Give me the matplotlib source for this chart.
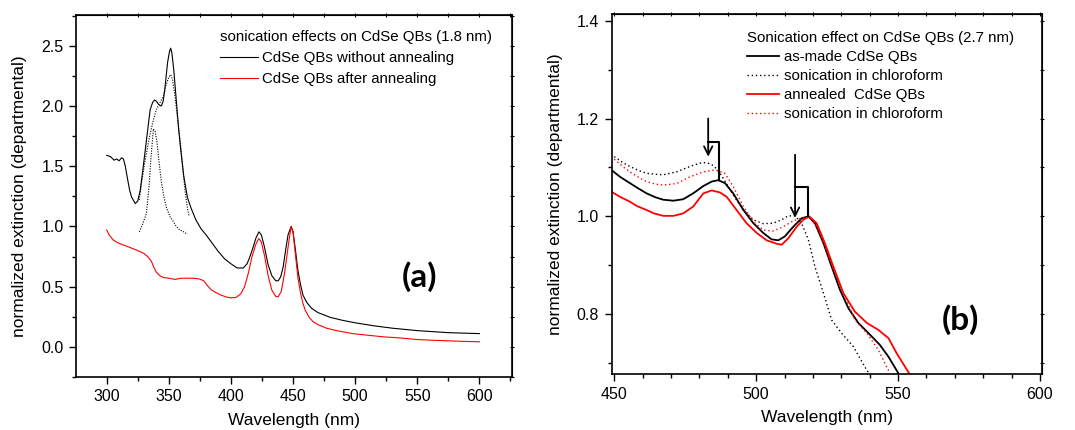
import numpy as np
import matplotlib; matplotlib.use('Agg')
import matplotlib.pyplot as plt
from matplotlib.ticker import MultipleLocator
from matplotlib.lines import Line2D

plt.rcParams['font.family'] = ['Liberation Sans', 'DejaVu Sans']

# ---- (a) 1.8 nm QBs ----
wl_a_raw = [300, 303, 306, 308, 310, 312, 313.5, 315, 316.5, 318.5, 320, 323, 325, 327, 329,
            331, 333, 335, 337, 338.5, 340, 342, 344, 345.5, 347, 349, 350.5, 351.5, 352.5,
            354, 356, 358, 360, 362, 365, 368, 372, 376, 380, 385, 390, 395, 400, 405, 410,
            413, 415, 418, 420, 422.5, 424.5, 427, 430, 433, 436, 438, 440, 442, 444, 446,
            448.5, 450, 452, 454, 456, 458, 461, 465, 470, 480, 490, 500, 515, 530, 550,
            575, 600]
ext_a_raw = [1.59, 1.58, 1.55, 1.56, 1.545, 1.57, 1.56, 1.50, 1.41, 1.30, 1.245, 1.19, 1.21,
             1.30, 1.46, 1.63, 1.80, 1.97, 2.03, 2.05, 2.04, 2.01, 2.00, 2.04, 2.16, 2.36, 2.45,
             2.48, 2.44, 2.30, 2.05, 1.80, 1.60, 1.42, 1.24, 1.15, 1.05, 0.98, 0.93, 0.86,
             0.79, 0.73, 0.69, 0.655, 0.655, 0.69, 0.74, 0.83, 0.90, 0.955, 0.93, 0.83, 0.68,
             0.59, 0.55, 0.548, 0.58, 0.66, 0.80, 0.93, 1.0, 0.96, 0.80, 0.63, 0.52, 0.43,
             0.37, 0.32, 0.285, 0.245, 0.22, 0.20, 0.175, 0.155, 0.135, 0.118, 0.11]

wl_a_ann = [300, 302, 305, 308, 311, 315, 320, 325, 330, 333, 336, 338, 340, 343, 346, 350,
            355, 360, 365, 370, 374, 378, 381, 384, 388, 392, 396, 400, 404, 408, 411, 414,
            417, 420, 422.5, 424.5, 427, 430, 433, 436, 438, 440.5, 443, 445, 447, 448.5, 450,
            452, 454, 456, 458, 460, 463, 466, 470, 477, 485, 498, 510, 523, 535, 550, 562,
            575, 590, 600]
ext_a_ann = [0.97, 0.93, 0.89, 0.87, 0.855, 0.84, 0.82, 0.80, 0.775, 0.75, 0.71, 0.66, 0.62,
             0.59, 0.575, 0.57, 0.56, 0.57, 0.57, 0.57, 0.565, 0.55, 0.51, 0.475, 0.45, 0.43,
             0.415, 0.407, 0.41, 0.44, 0.50, 0.61, 0.75, 0.85, 0.90, 0.87, 0.76, 0.59, 0.47,
             0.42, 0.415, 0.46, 0.60, 0.75, 0.90, 1.0, 0.95, 0.76, 0.57, 0.45, 0.36, 0.30,
             0.245, 0.21, 0.185, 0.155, 0.135, 0.11, 0.097, 0.083, 0.075, 0.061, 0.055, 0.05,
             0.045, 0.042]

# Lorentzian-like components of the 1.8 nm double peak
wl_a_fit1 = [326.3, 329, 332, 334, 335.5, 337.6, 339, 340.5, 342, 344, 346, 348, 351, 353.7,
             356, 359, 362, 365]
ext_a_fit1 = [0.955, 1.02, 1.11, 1.32, 1.55, 1.81, 1.79, 1.70, 1.55, 1.37, 1.25, 1.16, 1.08,
              1.04, 1.00, 0.97, 0.955, 0.935]
wl_a_fit2 = [326.3, 328, 331, 334, 337, 340, 343, 345.6, 348, 350, 351.5, 353, 355, 357, 359,
             361, 363, 365, 366.3]
ext_a_fit2 = [1.22, 1.36, 1.55, 1.72, 1.86, 1.97, 2.03, 2.08, 2.18, 2.24, 2.26, 2.22, 2.08,
              1.90, 1.72, 1.52, 1.30, 1.15, 1.09]

# ---- (b) 2.7 nm QBs ----
wl_b_made = [449.4, 452, 455.5, 458.5, 461.4, 464.5, 467.3, 470.8, 474.3, 477.8, 481.4, 484.3,
             486.6, 489, 491.9, 495.5, 499, 502.5, 505.4, 507.8, 510.1, 513.1, 516, 518.4,
             520.7, 523.7, 526.6, 529.5, 532.5, 536, 540.1, 543.6, 546.6, 550.1]
ext_b_made = [1.093, 1.081, 1.068, 1.057, 1.047, 1.039, 1.034, 1.032, 1.035, 1.047, 1.062,
              1.071, 1.074, 1.068, 1.047, 1.013, 0.986, 0.966, 0.953, 0.951, 0.959, 0.979,
              0.996, 1.0, 0.986, 0.945, 0.897, 0.850, 0.812, 0.782, 0.758, 0.737, 0.713, 0.679]

wl_b_made_son = [450, 453, 455.5, 458.5, 461.4, 464.5, 467.3, 472, 476.7, 480.2, 482.5, 484.9,
                 486.5, 488.4, 491.9, 495.5, 499, 502.5, 506, 509, 511.3, 513.7, 516, 518.4,
                 520.7, 523.7, 526.6, 530.1, 534.2, 538.9, 540.1]
ext_b_made_son = [1.122, 1.110, 1.102, 1.094, 1.088, 1.086, 1.085, 1.091, 1.102, 1.109, 1.110,
                  1.104, 1.094, 1.078, 1.044, 1.013, 0.993, 0.985, 0.986, 0.993, 1.001, 1.001,
                  0.986, 0.952, 0.897, 0.843, 0.788, 0.761, 0.734, 0.686, 0.676]

wl_b_ann = [449.4, 452, 455.5, 458, 461.4, 464, 467.3, 470.8, 474.3, 477.8, 481.4, 484.3, 487.2,
            489.6, 493.1, 496.6, 500.2, 503.7, 507.2, 509, 511.3, 514.3, 516.6, 518.7, 521.3,
            524.2, 527.2, 530.7, 534.8, 539, 543, 546.6, 549.5, 554.2]
ext_b_ann = [1.049, 1.040, 1.030, 1.021, 1.013, 1.006, 1.001, 1.001, 1.006, 1.020, 1.047,
             1.053, 1.049, 1.040, 1.013, 0.986, 0.966, 0.951, 0.944, 0.942, 0.955, 0.979,
             0.993, 1.0, 0.986, 0.945, 0.897, 0.843, 0.805, 0.782, 0.768, 0.751, 0.720, 0.676]

wl_b_ann_son = [450, 453, 455.5, 458.5, 461.4, 464.5, 467.3, 472, 476.7, 481.4, 485.5, 489,
                491.9, 495.5, 499, 502.5, 506, 509.6, 513.1, 516, 518.7, 521.3, 524.2, 527.2,
                530.7, 534.8, 539, 543, 547.1]
ext_b_ann_son = [1.117, 1.102, 1.091, 1.080, 1.071, 1.066, 1.064, 1.067, 1.081, 1.091, 1.095,
                 1.088, 1.061, 1.020, 0.989, 0.972, 0.970, 0.979, 0.991, 0.996, 0.998, 0.979,
                 0.938, 0.891, 0.843, 0.788, 0.761, 0.727, 0.679]

# peak-shift markers: arrow (x, y_top, y_tip), bracket (x_right, y_level, y_peak)
shift_arrows = [(483.1, 1.200, 1.122, 487.0, 1.151, 1.074),
                (513.7, 1.126, 0.997, 518.4, 1.061, 1.000)]


def style_axes(ax, xmaj, xmin, ymaj, ymin, ylabelpad):
    ax.xaxis.set_major_locator(MultipleLocator(xmaj))
    ax.xaxis.set_minor_locator(MultipleLocator(xmin))
    ax.yaxis.set_major_locator(MultipleLocator(ymaj))
    ax.yaxis.set_minor_locator(MultipleLocator(ymin))
    ax.tick_params(which='major', direction='out', length=5, width=1.0, labelsize=11.5, pad=4)
    ax.tick_params(which='minor', direction='out', length=3, width=1.0)
    for s in ax.spines.values():
        s.set_linewidth(1.2)
    # small ticks on the opposite frame sides
    top = ax.secondary_xaxis('top')
    top.xaxis.set_major_locator(MultipleLocator(xmaj))
    top.xaxis.set_minor_locator(MultipleLocator(xmin))
    top.tick_params(which='both', direction='inout', length=3, width=0.8, labeltop=False)
    right = ax.secondary_yaxis('right')
    right.yaxis.set_major_locator(MultipleLocator(ymaj))
    right.yaxis.set_minor_locator(MultipleLocator(ymin))
    right.tick_params(which='both', direction='inout', length=3, width=0.8, labelright=False)
    ax.set_xlabel('Wavelength (nm)', fontsize=12.5, labelpad=6)
    ax.set_ylabel('normalized extinction (departmental)', fontsize=12.5, labelpad=ylabelpad)


fig = plt.figure(figsize=(10.75, 4.3), dpi=100)
ax1 = fig.add_axes([0.0707, 0.1233, 0.4056, 0.8417])
ax2 = fig.add_axes([0.569, 0.1295, 0.4006, 0.8379])

# ---- panel (a) ----
ax1.plot(wl_a_raw, ext_a_raw, color='black', lw=0.8)
ax1.plot(wl_a_ann, ext_a_ann, color='red', lw=0.8)
ax1.plot(wl_a_fit1, ext_a_fit1, color='black', lw=0.8, ls=(0, (1, 1.3)))
ax1.plot(wl_a_fit2, ext_a_fit2, color='black', lw=0.8, ls=(0, (1, 1.3)))
ax1.set_xlim(275.3, 626.3)
ax1.set_ylim(-0.25, 2.755)
style_axes(ax1, 50, 25, 0.5, 0.25, 10)

h1 = [Line2D([], [], color='black', lw=0.8), Line2D([], [], color='red', lw=0.8)]
ax1.legend(h1, ['CdSe QBs without annealing', 'CdSe QBs after annealing'],
           title='sonication effects on CdSe QBs (1.8 nm)', alignment='left',
           loc='upper left', bbox_to_anchor=(0.330, 0.958), frameon=False,
           fontsize=10.8, title_fontsize=10.8, borderpad=0, borderaxespad=0,
           handlelength=2.53, handletextpad=0.27, labelspacing=0.47)
ax1.text(552, 0.58, '(a)', fontsize=24, fontweight='bold', family='Lato',
         ha='center', va='center')

# ---- panel (b) ----
ax2.plot(wl_b_made, ext_b_made, color='black', lw=1.3)
ax2.plot(wl_b_made_son, ext_b_made_son, color='black', lw=1.0, ls=(0, (1, 2)))
ax2.plot(wl_b_ann, ext_b_ann, color='red', lw=1.3)
ax2.plot(wl_b_ann_son, ext_b_ann_son, color='red', lw=1.0, ls=(0, (1, 2)))
for xa, ytop, ytip, xb, ylev, ypk in shift_arrows:
    ax2.annotate('', xy=(xa, ytip), xytext=(xa, ytop),
                 arrowprops=dict(arrowstyle='->', color='black', lw=1.3,
                                 mutation_scale=15, shrinkA=0, shrinkB=0))
    ax2.plot([xa, xb, xb], [ylev, ylev, ypk], color='black', lw=1.5)
ax2.set_xlim(449.1, 600.8)
ax2.set_ylim(0.677, 1.4137)
style_axes(ax2, 50, 10, 0.2, 0.1, 10)

h2 = [Line2D([], [], color='black', lw=1.3),
      Line2D([], [], color='black', lw=1.0, ls=(0, (1, 2))),
      Line2D([], [], color='red', lw=1.3),
      Line2D([], [], color='red', lw=1.0, ls=(0, (1, 2)))]
ax2.legend(h2, ['as-made CdSe QBs', 'sonication in chloroform', 'annealed  CdSe QBs',
                'sonication in chloroform'],
           title='Sonication effect on CdSe QBs (2.7 nm)', alignment='left',
           loc='upper left', bbox_to_anchor=(0.3135, 0.953), frameon=False,
           fontsize=10.8, title_fontsize=10.8, borderpad=0, borderaxespad=0,
           handlelength=2.13, handletextpad=0.33, labelspacing=0.33)
ax2.text(571.8, 0.788, '(b)', fontsize=24, fontweight='bold', family='Lato',
         ha='center', va='center')

fig.savefig('out.png', dpi=100)
